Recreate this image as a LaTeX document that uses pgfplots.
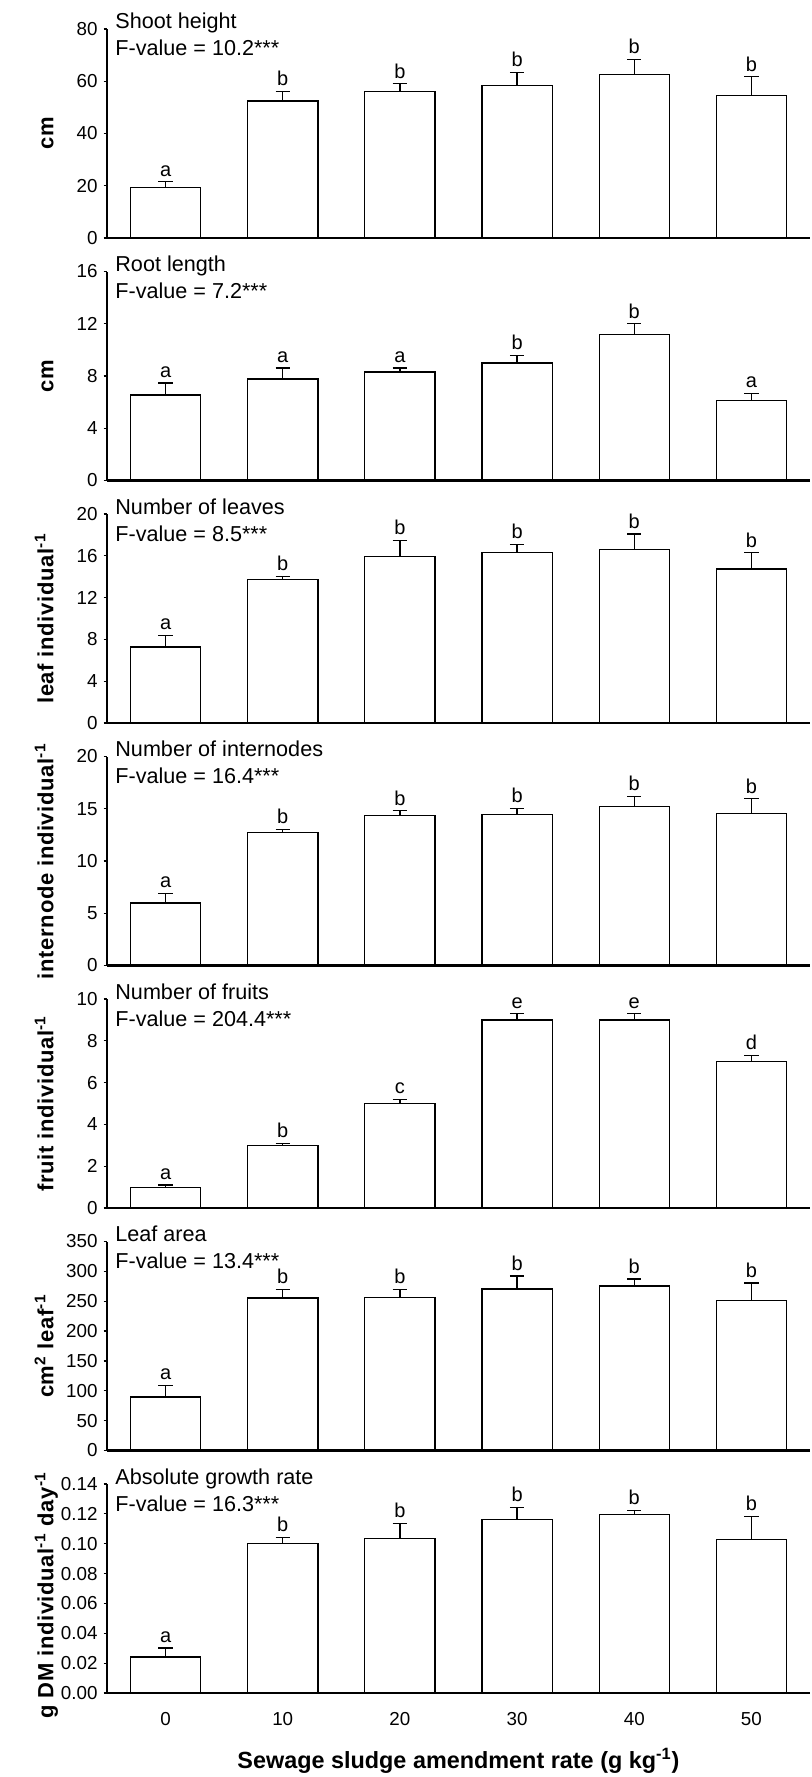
\documentclass[border=0pt]{standalone}
\usepackage{pgfplots}
\usepackage{pgfplotstable}
\pgfplotsset{compat=1.18}
\usepackage{fontspec}
\setmainfont{Liberation Sans}
\newfontfamily\ylabfont[LetterSpace=3]{Liberation Sans}

\pgfplotstableread{
x y e lab
0 19.4 2.1 a
1 52.4 3.8 b
2 56.2 2.8 b
3 58.3 5.1 b
4 62.5 5.9 b
5 54.6 7.1 b
}\tshoot
\pgfplotstableread{
x y e lab
0 6.54 0.92 a
1 7.77 0.85 a
2 8.31 0.31 a
3 9.00 0.59 b
4 11.20 0.80 b
5 6.15 0.52 a
}\troot
\pgfplotstableread{
x y e lab
0 7.28 1.09 a
1 13.75 0.29 b
2 15.93 1.54 b
3 16.28 0.84 b
4 16.57 1.51 b
5 14.74 1.54 b
}\tleaves
\pgfplotstableread{
x y e lab
0 5.98 0.92 a
1 12.72 0.32 b
2 14.37 0.44 b
3 14.46 0.60 b
4 15.19 0.98 b
5 14.56 1.40 b
}\tinter
\pgfplotstableread{
x y e lab
0 1.0 0.1 a
1 3.0 0.1 b
2 5.0 0.2 c
3 9.0 0.3 e
4 9.0 0.3 e
5 7.0 0.3 d
}\tfruit
\pgfplotstableread{
x y e lab
0 89.6 19.6 a
1 255.3 14.6 b
2 255.9 14.0 b
3 270.4 21.9 b
4 275.5 11.7 b
5 250.8 29.7 b
}\tarea
\pgfplotstableread{
x y e lab
0 0.0241 0.0060 a
1 0.1004 0.0040 b
2 0.1035 0.0102 b
3 0.1163 0.0080 b
4 0.1197 0.0026 b
5 0.1026 0.0157 b
}\tagr

\pgfplotsset{
  panel/.style={
    scale only axis, width=351.5pt, height=104.5pt,
    xmin=-0.5, xmax=5.5, ymin=0,
    anchor=north west,
    axis x line*=bottom, axis y line*=left,
    x axis line style={-, line width=1.2pt},
    y axis line style={-, line width=0.7pt},
    xtick=\empty,
    tick align=outside, major tick length=1.7pt,
    ytick style={line width=0.6pt, black},
    xtick style={draw=none},
    tick label style={font=\fontsize{9.4}{11}\selectfont},
    yticklabel style={xshift=0.5pt},
    /pgf/number format/assume math mode=true,
    clip=false, axis on top,
    every axis y label/.style={at={(axis description cs:0,0.5)}, xshift=-26.8pt, rotate=90, anchor=base, font=\ylabfont\bfseries\fontsize{11}{13}\selectfont},
  },
  bars/.style={ybar, bar width=0.6, fill=white, draw=black, line width=0.6pt,
    error bars/.cd, y dir=plus, y explicit, error mark=-,
    error mark options={rotate=90, mark size=3.6pt, line width=0.6pt, black},
    error bar style={line width=0.6pt, black}},
  labs/.style={black, draw=none, mark=none, nodes near coords, point meta=explicit symbolic,
    every node near coord/.append style={inner sep=0pt, yshift=2.5pt, black, font=\fontsize{10}{12}\selectfont}},
}

\newcommand{\ptitle}[2]{%
  \node[anchor=base west, inner sep=0pt, xshift=4pt, font=\fontsize{10.8}{13}\selectfont] at (rel axis cs:0,1) {#1};
  \node[anchor=base west, inner sep=0pt, xshift=4pt, yshift=-13.5pt, font=\fontsize{10.8}{13}\selectfont] at (rel axis cs:0,1) {#2};
}

\begin{document}
\begin{tikzpicture}
\useasboundingbox (0,0) rectangle (405.5pt,-888.5pt);

% 1 Shoot height
\begin{axis}[panel, at={(53.5pt,-14.5pt)}, ymax=80, ytick={0,20,...,80}, ylabel={cm}]
\addplot[bars] table[x=x, y=y, y error=e] {\tshoot};
\addplot[labs] table[x=x, y expr=\thisrow{y}+\thisrow{e}, meta=lab] {\tshoot};
\ptitle{Shoot height}{F-value = 10.2***}
\end{axis}

% 2 Root length
\begin{axis}[panel, at={(53.5pt,-135.75pt)}, ymax=16, ytick={0,4,...,16}, ylabel={cm}]
\addplot[bars] table[x=x, y=y, y error=e] {\troot};
\addplot[labs] table[x=x, y expr=\thisrow{y}+\thisrow{e}, meta=lab] {\troot};
\ptitle{Root length}{F-value = 7.2***}
\end{axis}

% 3 Leaves
\begin{axis}[panel, at={(53.5pt,-257pt)}, ymax=20, ytick={0,4,...,20}, ylabel={leaf individual\textsuperscript{-1}}]
\addplot[bars] table[x=x, y=y, y error=e] {\tleaves};
\addplot[labs] table[x=x, y expr=\thisrow{y}+\thisrow{e}, meta=lab] {\tleaves};
\ptitle{Number of leaves}{F-value = 8.5***}
\end{axis}

% 4 Internodes
\begin{axis}[panel, at={(53.5pt,-378.25pt)}, ymax=20, ytick={0,5,...,20}, ylabel={internode individual\textsuperscript{-1}}]
\addplot[bars] table[x=x, y=y, y error=e] {\tinter};
\addplot[labs] table[x=x, y expr=\thisrow{y}+\thisrow{e}, meta=lab] {\tinter};
\ptitle{Number of internodes}{F-value = 16.4***}
\end{axis}

% 5 Fruits
\begin{axis}[panel, at={(53.5pt,-499.5pt)}, ymax=10, ytick={0,2,...,10}, ylabel={fruit individual\textsuperscript{-1}}]
\addplot[bars] table[x=x, y=y, y error=e] {\tfruit};
\addplot[labs] table[x=x, y expr=\thisrow{y}+\thisrow{e}, meta=lab] {\tfruit};
\ptitle{Number of fruits}{F-value = 204.4***}
\end{axis}

% 6 Leaf area
\begin{axis}[panel, at={(53.5pt,-620.75pt)}, ymax=350, ytick={0,50,...,350}, ylabel={cm\textsuperscript{2} leaf\textsuperscript{-1}}]
\addplot[bars] table[x=x, y=y, y error=e] {\tarea};
\addplot[labs] table[x=x, y expr=\thisrow{y}+\thisrow{e}, meta=lab] {\tarea};
\ptitle{Leaf area}{F-value = 13.4***}
\end{axis}

% 7 AGR
\begin{axis}[panel, at={(53.5pt,-742pt)}, ymax=0.14, ytick={0,0.02,...,0.141},
  yticklabel style={/pgf/number format/.cd, fixed, fixed zerofill, precision=2},
  ylabel={g DM individual\textsuperscript{-1} day\textsuperscript{-1}},
  ylabel style={xshift=-3.3pt},
  xtick={0,...,5}, xticklabels={0,10,20,30,40,50},
  xticklabel style={yshift=-4.5pt},
  xlabel={Sewage sludge amendment rate (g kg\textsuperscript{-1})},
  xlabel style={at={(axis description cs:0.5,0)}, anchor=base, yshift=-37.5pt, font=\bfseries\fontsize{11.7}{13}\selectfont}]
\addplot[bars] table[x=x, y=y, y error=e] {\tagr};
\addplot[labs] table[x=x, y expr=\thisrow{y}+\thisrow{e}, meta=lab] {\tagr};
\ptitle{Absolute growth rate}{F-value = 16.3***}
\end{axis}
\end{tikzpicture}
\end{document}
